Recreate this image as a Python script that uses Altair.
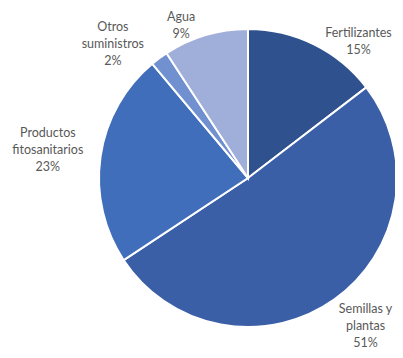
import altair as alt
import pandas as pd

categories = ["Fertilizantes", "Semillas y plantas", "Productos fitosanitarios", "Otros suministros", "Agua"]
values = [14.6, 51.1, 23.2, 1.9, 9.2]
label_texts = ["Fertilizantes\n15%", "Semillas y\nplantas\n51%", "Productos\nfitosanitarios\n23%", "Otros\nsuministros\n2%", "Agua\n9%"]
colors = ["#2F528F", "#3A5FA6", "#416EBA", "#7190D0", "#A0AEDA"]

df = pd.DataFrame({
    "categoria": categories,
    "valor": values,
    "etiqueta": label_texts,
    "orden": list(range(len(categories))),
})

CX, CY, R = 240, 170, 149

color_scale = alt.Scale(domain=categories, range=colors)

arcs = alt.Chart(df).mark_arc(radius=R, stroke="white", strokeWidth=2).encode(
    theta=alt.Theta("valor:Q", stack=True),
    color=alt.Color("categoria:N", scale=color_scale, legend=None),
    order=alt.Order("orden:Q"),
    x=alt.value(CX),
    y=alt.value(CY),
)

# per-label nudges (style only)
nudges = {
    "Fertilizantes": (33, 12),
    "Semillas y plantas": (16, -11.5),
    "Productos fitosanitarios": (-27, -20),
    "Otros suministros": (-31, -10),
    "Agua": (-17, 7),
}

layers = [arcs]
for cat, (ddx, ddy) in nudges.items():
    t = alt.Chart(df).mark_text(
        radius=175, lineBreak="\n", font="Lato", fontSize=12.5, color="#595959",
        align="center", baseline="middle", lineHeight=17, dx=ddx, dy=ddy,
    ).encode(
        theta=alt.Theta("valor:Q", stack=True),
        order=alt.Order("orden:Q"),
        text=alt.Text("etiqueta:N"),
        x=alt.value(CX),
        y=alt.value(CY),
        opacity=alt.condition(alt.datum.categoria == cat, alt.value(1), alt.value(0)),
    )
    layers.append(t)

chart = alt.layer(*layers).properties(
    width=387, height=342, autosize=alt.AutoSizeParams(type="none"), padding=0
).configure_view(stroke=None)

chart.save("out.html", embed_options={"renderer": "svg", "actions": False})
